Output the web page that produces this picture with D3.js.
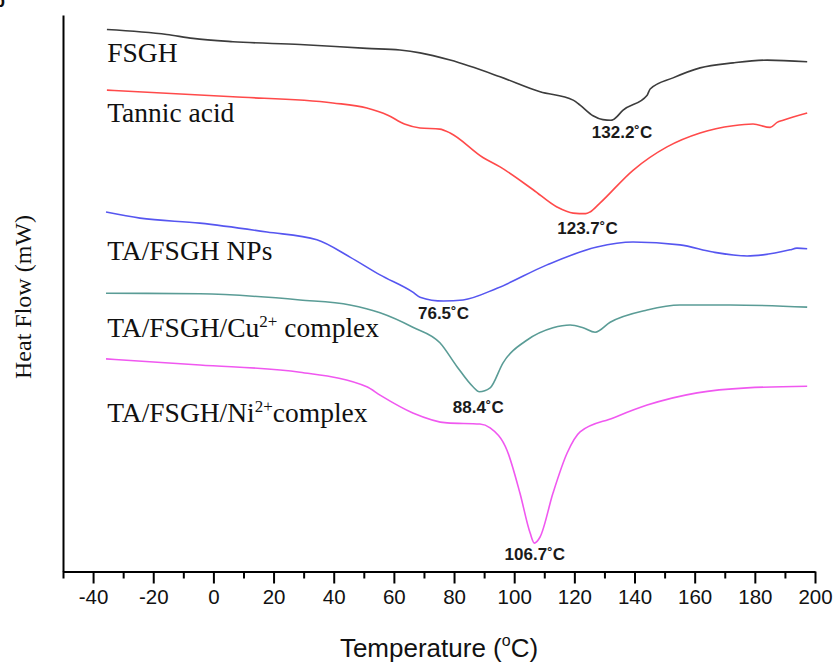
<!DOCTYPE html>
<html>
<head>
<meta charset="utf-8">
<script src="https://cdn.jsdelivr.net/npm/d3@7"></script>
<style>
  html, body { margin: 0; padding: 0; background: #fff; }
  svg { display: block; }
</style>
</head>
<body>
<svg id="chart" width="837" height="666"></svg>
<script>
// ---- data (temperature in °C, heat flow in arbitrary offset units) ----
const fsghT = [-35.4, -15.5, -6.8, 6.5, 28.8, 51.0, 62.0, 68.7, 78.7, 95.3, 108.6, 119.6, 121.9, 126.2, 129.5, 132.2, 132.9, 136.2, 144.2, 145.2, 152.8, 161.8, 172.8, 184.1, 197.4];
const fsghV = [97.4, 96.5, 95.8, 95.2, 94.7, 94.0, 93.7, 93.2, 91.9, 88.9, 86.2, 84.7, 83.8, 81.9, 81.2, 81.1, 81.2, 82.9, 85.6, 86.7, 88.7, 90.5, 91.4, 91.9, 91.6];

const taT = [-35.4, 6.5, 39.7, 51.0, 58.0, 63.5, 68.7, 75.3, 78.7, 89.6, 95.3, 106.3, 114.2, 119.6, 123.7, 125.2, 128.5, 139.5, 150.8, 161.8, 172.8, 179.4, 185.1, 187.4, 189.4, 197.4];
const taV = [86.5, 85.3, 84.2, 83.3, 82.0, 80.4, 79.7, 79.5, 78.8, 74.4, 72.7, 68.6, 65.5, 64.4, 64.3, 64.6, 66.2, 72.1, 76.3, 78.8, 80.1, 80.4, 79.8, 80.7, 81.1, 82.4];

const npT = [-35.7, -24.4, -4.5, 17.8, 34.4, 45.4, 55.4, 66.3, 68.7, 76.5, 83.0, 94.3, 110.9, 127.5, 139.5, 155.1, 166.1, 177.4, 182.7, 191.7, 194.0, 197.4];
const npV = [64.6, 63.5, 62.6, 61.0, 59.6, 56.5, 53.3, 50.2, 49.3, 48.6, 48.8, 50.9, 55.1, 58.3, 59.2, 58.7, 57.4, 56.7, 56.9, 57.8, 58.1, 58.0];

const cuT = [-35.7, -4.5, 28.8, 45.4, 55.4, 66.3, 75.3, 81.0, 86.3, 88.4, 92.0, 96.3, 104.3, 112.9, 118.6, 122.9, 126.9, 131.9, 144.2, 155.1, 171.8, 197.4];
const cuV = [50.0, 49.9, 48.8, 47.9, 46.5, 43.9, 41.1, 36.8, 33.2, 32.3, 33.0, 37.5, 41.6, 43.8, 44.3, 43.8, 43.0, 44.8, 47.0, 47.9, 47.9, 47.5];

const niT = [-35.7, -4.5, 28.8, 51.0, 55.4, 66.3, 77.7, 88.6, 92.0, 97.6, 101.9, 105.3, 106.7, 108.6, 112.9, 117.6, 121.9, 132.9, 144.2, 160.8, 177.4, 197.4];
const niV = [38.2, 37.1, 35.8, 33.2, 31.7, 28.5, 26.7, 26.5, 25.8, 21.8, 14.1, 6.9, 5.1, 6.2, 14.1, 21.3, 25.1, 27.6, 29.9, 32.1, 33.0, 33.3];

const seriesNames = ["FSGH", "Tannic acid", "TA/FSGH NPs", "TA/FSGH/Cu2+ complex", "TA/FSGH/Ni2+complex"];
const peakTemps = [132.2, 123.7, 76.5, 88.4, 106.7];
const peakLabels = ["132.2˚C", "123.7˚C", "76.5˚C", "88.4˚C", "106.7˚C"];
const majorTicks = [-40, -20, 0, 20, 40, 60, 80, 100, 120, 140, 160, 180, 200];
const minorTicks = [-50, -30, -10, 10, 30, 50, 70, 90, 110, 130, 150, 170, 190];

// ---- layout / style ----
const colors = ["#3c3c3c", "#ff4a4a", "#5656f0", "#5a9c96", "#f058f0"];
const nameBaselines = [62, 122, 260, 337, 422];
const peakOffsets = [[11, 138], [2, 234], [0, 319], [-1, 413], [0.5, 560]];

const svg = d3.select("#chart");
const x = d3.scaleLinear().domain([-50, 200]).range([63, 815]);
const y = d3.scaleLinear().domain([0, 100]).range([571.5, 15]);

const series = [
  fsghT.map((t, i) => [t, fsghV[i]]),
  taT.map((t, i) => [t, taV[i]]),
  npT.map((t, i) => [t, npV[i]]),
  cuT.map((t, i) => [t, cuV[i]]),
  niT.map((t, i) => [t, niV[i]])
];

const line = d3.line().x(d => x(d[0])).y(d => y(d[1])).curve(d3.curveMonotoneX);

svg.append("g").selectAll("path").data(series).join("path")
  .attr("d", line)
  .attr("fill", "none")
  .attr("stroke", (d, i) => colors[i])
  .attr("stroke-width", 1.6)
  .attr("stroke-linejoin", "round");

// axes
const xAxis = svg.append("g").attr("transform", "translate(0,571.5)")
  .call(d3.axisBottom(x).tickValues(majorTicks).tickSize(12).tickSizeOuter(0).tickPadding(6).tickFormat(d => String(d)));
xAxis.select(".domain").attr("stroke", "#000").attr("stroke-width", 2);
xAxis.selectAll(".tick line").attr("stroke", "#000").attr("stroke-width", 2);
xAxis.selectAll(".tick text")
  .attr("font-family", "Arial, 'Liberation Sans', sans-serif")
  .attr("font-size", 20.5).attr("fill", "#111");

const xMinor = svg.append("g").attr("transform", "translate(0,571.5)")
  .call(d3.axisBottom(x).tickValues(minorTicks).tickSize(7).tickSizeOuter(0).tickFormat(""));
xMinor.select(".domain").remove();
xMinor.selectAll(".tick line").attr("stroke", "#000").attr("stroke-width", 2);

const yAxis = svg.append("g").attr("transform", "translate(63,0)")
  .call(d3.axisLeft(y).tickValues([]).tickSizeOuter(0));
yAxis.select(".domain").attr("stroke", "#000").attr("stroke-width", 2);

// axis titles
const xt = svg.append("text").attr("x", 439).attr("y", 657)
  .attr("text-anchor", "middle")
  .attr("font-family", "Arial, 'Liberation Sans', sans-serif")
  .attr("font-size", 26).attr("fill", "#111");
xt.append("tspan").text("Temperature (");
xt.append("tspan").attr("font-size", 16).attr("dy", -11).text("o");
xt.append("tspan").attr("dy", 11).text("C)");

svg.append("text")
  .attr("transform", "translate(31,297) rotate(-90)")
  .attr("text-anchor", "middle")
  .attr("font-family", "'Liberation Serif', 'Times New Roman', serif")
  .attr("font-size", 24).attr("fill", "#111")
  .text("Heat Flow (mW)");

// series names
seriesNames.forEach((name, i) => {
  const t = svg.append("text").attr("x", x(-35.3)).attr("y", nameBaselines[i])
    .attr("font-family", "'Liberation Serif', 'Times New Roman', serif")
    .attr("font-size", 27.5).attr("fill", "#111");
  const m = name.match(/^(.*?)(2\+)(.*)$/);
  if (m) {
    t.append("tspan").text(m[1]);
    t.append("tspan").attr("font-size", 17).attr("dy", -10).text(m[2]);
    t.append("tspan").attr("dy", 10).text(m[3]);
  } else {
    t.text(name);
  }
});

// peak labels
peakTemps.forEach((p, i) => {
  svg.append("text")
    .attr("x", x(p) + peakOffsets[i][0]).attr("y", peakOffsets[i][1])
    .attr("text-anchor", "middle")
    .attr("font-family", "Arial, 'Liberation Sans', sans-serif")
    .attr("font-weight", "bold")
    .attr("font-size", 17).attr("fill", "#1a1a1a")
    .text(peakLabels[i]);
});

// panel letter (cropped at the page corner, as in the original)
svg.append("text").attr("x", -6).attr("y", 7)
  .attr("font-family", "Arial, sans-serif").attr("font-weight", "bold")
  .attr("font-size", 18).attr("fill", "#111").text("b");
</script>
</body>
</html>
